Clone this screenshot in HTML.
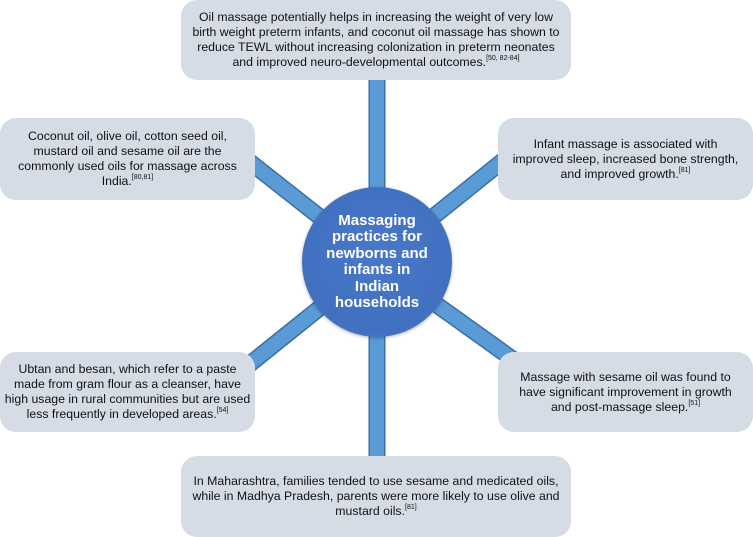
<!DOCTYPE html>
<html><head><meta charset="utf-8"><style>
html,body{margin:0;padding:0;background:#fff;}
body{width:753px;height:537px;position:relative;overflow:hidden;font-family:"Liberation Sans",Arial,sans-serif;}
.box{position:absolute;background:#d6dce5;border-radius:16px;display:flex;align-items:center;justify-content:center;text-align:center;font-size:12.3px;line-height:15px;color:#111;box-sizing:border-box;padding:0 6px;}
sup{font-size:7px;vertical-align:top;line-height:8px;}
.c{position:absolute;left:302px;top:187px;width:150px;height:150px;border-radius:50%;background:radial-gradient(circle at 50% 45%,#4a78c8 0%,#4270c0 70%,#5a88d4 92%,#3e66b0 100%);box-shadow:0 1px 3px rgba(0,0,0,.3);color:#fff;font-weight:bold;font-size:15px;line-height:16.5px;display:flex;align-items:center;justify-content:center;text-align:center;}
</style></head><body>
<svg width="753" height="537" style="position:absolute;left:0;top:0">
<g stroke="#3a6ea5" stroke-width="17" stroke-linecap="butt">
<line x1="377" y1="80" x2="377" y2="460"/>
<line x1="377" y1="262" x2="222" y2="140"/>
<line x1="377" y1="262" x2="535" y2="135"/>
<line x1="377" y1="262" x2="210" y2="396"/>
<line x1="377" y1="262" x2="560" y2="393"/>
</g>
<g stroke="#5b9bd5" stroke-width="14" stroke-linecap="butt">
<line x1="377" y1="78" x2="377" y2="462"/>
<line x1="377" y1="262" x2="222" y2="140"/>
<line x1="377" y1="262" x2="535" y2="135"/>
<line x1="377" y1="262" x2="210" y2="396"/>
<line x1="377" y1="262" x2="560" y2="393"/>
</g>
</svg>
<div class="box" style="left:181px;top:0;width:390px;height:80px;"><div>Oil massage potentially helps in increasing the weight of very low birth weight preterm infants, and coconut oil massage has shown to reduce TEWL without increasing colonization in preterm neonates and improved neuro-developmental outcomes.<sup>[50, 82-84]</sup></div></div>
<div class="box" style="left:0;top:118px;width:255px;height:82px;"><div>Coconut oil, olive oil, cotton seed oil, mustard oil and sesame oil are the commonly used oils for massage across India.<sup>[80,81]</sup></div></div>
<div class="box" style="left:498px;top:118px;width:255px;height:82px;padding:0 14px;"><div>Infant massage is associated with improved sleep, increased bone strength, and improved growth.<sup>[81]</sup></div></div>
<div class="box" style="left:0;top:352px;width:255px;height:80px;padding:0 4px;"><div>Ubtan and besan, which refer to a paste made from gram flour as a cleanser, have high usage in rural communities but are used less frequently in developed areas.<sup>[54]</sup></div></div>
<div class="box" style="left:498px;top:352px;width:255px;height:80px;padding:0 12px;"><div>Massage with sesame oil was found to have significant improvement in growth and post-massage sleep.<sup>[51]</sup></div></div>
<div class="box" style="left:181px;top:456px;width:390px;height:81px;padding:0 6px;"><div>In Maharashtra, families tended to use sesame and medicated oils, while in Madhya Pradesh, parents were more likely to use olive and mustard oils.<sup>[81]</sup></div></div>
<div class="c"><div>Massaging<br>practices for<br>newborns and<br>infants in<br>Indian<br>households</div></div>
</body></html>
